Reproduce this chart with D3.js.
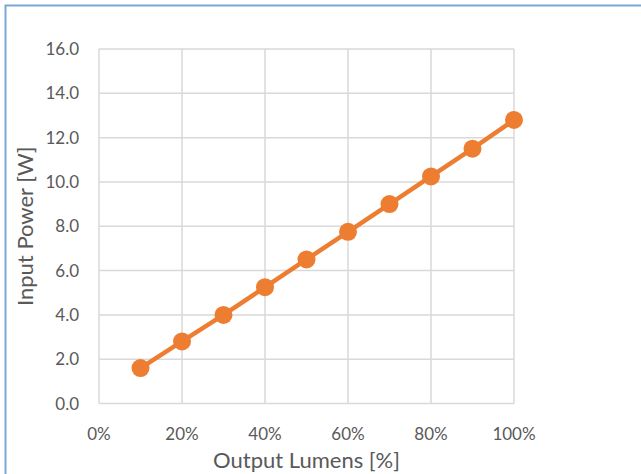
<!DOCTYPE html>
<html>
<head>
<meta charset="utf-8">
<script src="https://cdn.jsdelivr.net/npm/d3@7"></script>
<style>
  body { margin: 0; background: #fff; }
  text { font-family: Lato, "Open Sans", sans-serif; fill: #595959; }
</style>
</head>
<body>
<div id="chart"></div>
<script>
// Chart data
var lumens = [10, 20, 30, 40, 50, 60, 70, 80, 90, 100];
var power = [1.6, 2.8, 4.0, 5.25, 6.5, 7.75, 9.0, 10.25, 11.5, 12.8];
var xTicks = [0, 20, 40, 60, 80, 100];
var yTicks = [0, 2, 4, 6, 8, 10, 12, 14, 16];

var w = 641;
var h = 474;
var margin = {top: 49, right: 127, bottom: 70, left: 99};

var xScale = d3.scaleLinear()
    .domain([0, 100])
    .range([margin.left, w - margin.right]);

var yScale = d3.scaleLinear()
    .domain([0, 16])
    .range([h - margin.bottom - 0.5, margin.top]);

var svg = d3.select("#chart")
    .append("svg")
    .attr("width", w)
    .attr("height", h);

// outer frame (top and left edges only visible)
svg.append("path")
    .attr("d", "M5.5," + h + "V5.5H" + w)
    .attr("fill", "none")
    .attr("stroke", "#7AA7DA")
    .attr("stroke-width", 2);

// gridlines
svg.selectAll("line.hgrid")
    .data(yTicks)
    .enter()
    .append("line")
    .attr("class", "hgrid")
    .attr("x1", xScale(0))
    .attr("x2", xScale(100))
    .attr("y1", function(d) { return yScale(d); })
    .attr("y2", function(d) { return yScale(d); })
    .attr("stroke", "#D9D9D9")
    .attr("stroke-width", 1.5);

svg.selectAll("line.vgrid")
    .data(xTicks)
    .enter()
    .append("line")
    .attr("class", "vgrid")
    .attr("x1", function(d) { return xScale(d); })
    .attr("x2", function(d) { return xScale(d); })
    .attr("y1", yScale(0))
    .attr("y2", yScale(16))
    .attr("stroke", "#D9D9D9")
    .attr("stroke-width", 1.5);

// tick labels
svg.selectAll("text.ylab")
    .data(yTicks)
    .enter()
    .append("text")
    .attr("class", "ylab")
    .attr("x", 79)
    .attr("y", function(d) { return yScale(d); })
    .attr("dy", "0.36em")
    .attr("text-anchor", "end")
    .attr("font-size", 17)
    .text(function(d) { return d.toFixed(1); });

svg.selectAll("text.xlab")
    .data(xTicks)
    .enter()
    .append("text")
    .attr("class", "xlab")
    .attr("x", function(d) { return xScale(d); })
    .attr("y", 439.5)
    .attr("text-anchor", "middle")
    .attr("font-size", 17)
    .text(function(d) { return d + "%"; });

// axis titles
svg.append("text")
    .attr("x", (xScale(0) + xScale(100)) / 2)
    .attr("y", 468)
    .attr("text-anchor", "middle")
    .attr("font-size", 22)
    .text("Output Lumens [%]");

svg.append("text")
    .attr("transform", "translate(33," + (yScale(8)) + ") rotate(-90)")
    .attr("text-anchor", "middle")
    .attr("font-size", 22)
    .text("Input Power [W]");

// series line
var line = d3.line()
    .x(function(d, i) { return xScale(lumens[i]); })
    .y(function(d) { return yScale(d); });

svg.append("path")
    .datum(power)
    .attr("d", line)
    .attr("fill", "none")
    .attr("stroke", "#ED7D31")
    .attr("stroke-width", 4.5)
    .attr("stroke-linejoin", "round");

svg.selectAll("circle")
    .data(power)
    .enter()
    .append("circle")
    .attr("cx", function(d, i) { return xScale(lumens[i]); })
    .attr("cy", function(d) { return yScale(d); })
    .attr("r", 9)
    .attr("fill", "#ED7D31");
</script>
</body>
</html>
